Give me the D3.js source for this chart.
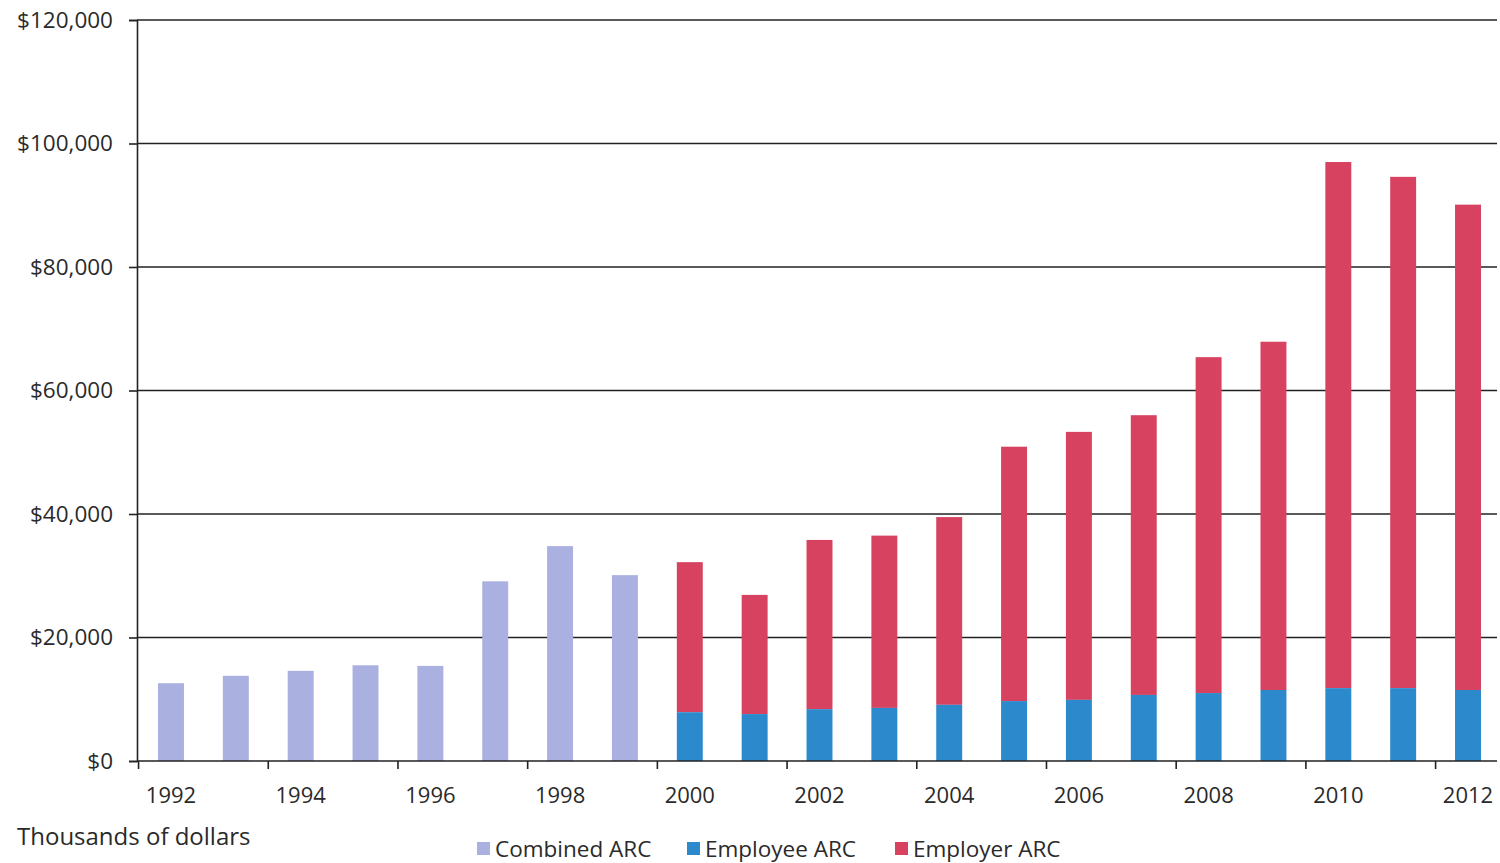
<!DOCTYPE html>
<html>
<head>
<meta charset="utf-8">
<script src="https://cdn.jsdelivr.net/npm/d3@7"></script>
<style>
  html, body { margin: 0; padding: 0; background: #fff; }
  svg { display: block; }
  text { font-family: "Open Sans", Lato, sans-serif; fill: #2a2a2a; }
</style>
</head>
<body>
<svg id="chart" width="1500" height="863"></svg>
<script>
// Annual required contributions, thousands of dollars
const years = d3.range(1992, 2013);
const combinedARC = [12600, 13800, 14600, 15500, 15400, 29100, 34800, 30100,
                     null, null, null, null, null, null, null, null, null, null, null, null, null];
const employeeARC = [null, null, null, null, null, null, null, null,
                     7900, 7600, 8400, 8600, 9100, 9700, 9900, 10700, 11000, 11500, 11800, 11800, 11500];
const totalARC    = [null, null, null, null, null, null, null, null,
                     32200, 26900, 35800, 36500, 39500, 50900, 53300, 56000, 65400, 67900, 97000, 94600, 90100];
const yTicks = [0, 20000, 40000, 60000, 80000, 100000, 120000];
const xTickYears = [1992, 1994, 1996, 1998, 2000, 2002, 2004, 2006, 2008, 2010, 2012];
const seriesNames = ["Combined ARC", "Employee ARC", "Employer ARC"];
const colors = { combined: "#aab0e0", employee: "#2b89cc", employer: "#d6425f" };

const svg = d3.select("#chart");
const plotLeft = 137, plotRight = 1502, plotTop = 20, plotBottom = 761, gridRight = 1497;

const x = d3.scaleBand().domain(years).range([plotLeft, plotRight]).paddingInner(0.6).paddingOuter(0.324);
const y = d3.scaleLinear().domain([0, 120000]).range([plotBottom, plotTop]);

// horizontal gridlines
svg.append("g").selectAll("line").data(yTicks.filter(d => d > 0)).join("line")
  .attr("x1", plotLeft).attr("x2", gridRight)
  .attr("y1", d => y(d)).attr("y2", d => y(d))
  .attr("stroke", "#222").attr("stroke-width", 1.6);

// y axis
const yAxis = d3.axisLeft(y).tickValues(yTicks).tickSize(8).tickPadding(16)
  .tickFormat(d => "$" + d3.format(",")(d));
const gy = svg.append("g").attr("transform", `translate(${plotLeft},0)`).call(yAxis);
gy.select(".domain").attr("stroke", "#222").attr("stroke-width", 1.6);
gy.selectAll(".tick line").attr("stroke", "#222").attr("stroke-width", 1.6);
gy.selectAll("text").style("font-size", "22.5px").attr("fill", "#2a2a2a");

// bars: combined years
const rows = years.map((yr, i) => ({ yr, c: combinedARC[i], e: employeeARC[i], t: totalARC[i] }));
svg.append("g").selectAll("rect").data(rows.filter(d => d.c != null)).join("rect")
  .attr("x", d => x(d.yr)).attr("width", x.bandwidth())
  .attr("y", d => y(d.c)).attr("height", d => y(0) - y(d.c))
  .attr("fill", colors.combined);

// stacked bars: employee + employer
const split = rows.filter(d => d.t != null);
svg.append("g").selectAll("rect").data(split).join("rect")
  .attr("x", d => x(d.yr)).attr("width", x.bandwidth())
  .attr("y", d => y(d.t)).attr("height", d => y(d.e) - y(d.t))
  .attr("fill", colors.employer);
svg.append("g").selectAll("rect").data(split).join("rect")
  .attr("x", d => x(d.yr)).attr("width", x.bandwidth())
  .attr("y", d => y(d.e)).attr("height", d => y(0) - y(d.e))
  .attr("fill", colors.employee);

// x axis baseline and ticks
const gx = svg.append("g");
gx.append("line").attr("x1", plotLeft).attr("x2", gridRight).attr("y1", plotBottom).attr("y2", plotBottom)
  .attr("stroke", "#222").attr("stroke-width", 1.6);
const step = x.step();
gx.selectAll("line.tk").data(xTickYears).join("line").attr("class", "tk")
  .attr("x1", d => x(d) + x.bandwidth() / 2 - step / 2)
  .attr("x2", d => x(d) + x.bandwidth() / 2 - step / 2)
  .attr("y1", plotBottom).attr("y2", plotBottom + 8)
  .attr("stroke", "#222").attr("stroke-width", 1.6);
gx.selectAll("text").data(xTickYears).join("text")
  .attr("x", d => x(d) + x.bandwidth() / 2).attr("y", 803)
  .attr("text-anchor", "middle").style("font-size", "22px")
  .text(d => d);

// unit note
svg.append("text").attr("x", 17).attr("y", 845).style("font-size", "24px").text("Thousands of dollars");

// legend
const legendX = [477, 687, 895];
const legendColors = [colors.combined, colors.employee, colors.employer];
const lg = svg.append("g").selectAll("g").data(seriesNames).join("g")
  .attr("transform", (d, i) => `translate(${legendX[i]},842)`);
lg.append("rect").attr("width", 13).attr("height", 13).attr("fill", (d, i) => legendColors[i]);
lg.append("text").attr("x", 18).attr("y", 15).style("font-size", "22.5px").text(d => d);
</script>
</body>
</html>
